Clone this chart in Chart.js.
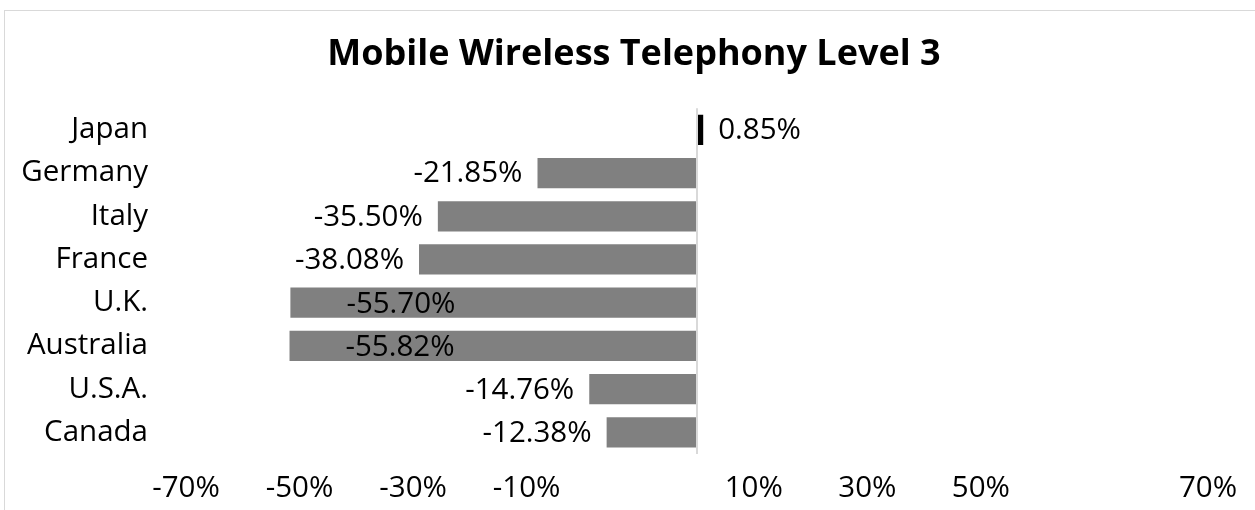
<!DOCTYPE html>
<html>
<head>
<meta charset="utf-8">
<script src="https://cdn.jsdelivr.net/npm/chart.js@4"></script>
<style>
  html, body { margin: 0; padding: 0; background: #fff; overflow: hidden; }
  #wrap { position: relative; width: 1255px; height: 510px; }
  #frame { position: absolute; left: 4px; top: 10px; width: 1300px; height: 560px; border: 1px solid #d9d9d9; }
  canvas { position: absolute; left: 0; top: 0; }
</style>
</head>
<body>
<div id="wrap">
  <div id="frame"></div>
  <canvas id="myChart" width="1255" height="510"></canvas>
</div>
<script>
const countries = ['Japan', 'Germany', 'Italy', 'France', 'U.K.', 'Australia', 'U.S.A.', 'Canada'];
const changes = [0.85, -21.85, -35.50, -38.08, -55.70, -55.82, -14.76, -12.38];
const axisLabels = ['-70%', '-50%', '-30%', '-10%', '', '10%', '30%', '50%', '', '70%'];

const chartTitle = 'Mobile Wireless Telephony Level 3';
const font = '"Open Sans", "Noto Sans", sans-serif';

// value labels next to the bars (moved inside when there is no room)
const barLabels = {
  id: 'barLabels',
  afterDatasetsDraw(chart) {
    const ctx = chart.ctx;
    const meta = chart.getDatasetMeta(0);
    ctx.save();
    ctx.font = '29.5px ' + font;
    ctx.fillStyle = '#000';
    ctx.textBaseline = 'middle';
    meta.data.forEach((bar, i) => {
      const v = changes[i];
      const txt = v.toFixed(2) + '%';
      const w = ctx.measureText(txt).width;
      if (v >= 0) {
        ctx.textAlign = 'left';
        ctx.fillText(txt, bar.x + 15, bar.y + 1);
      } else if (bar.x - 15 - w < chart.chartArea.left) {
        ctx.textAlign = 'left';
        ctx.fillText(txt, bar.x + 56, bar.y + 2);
      } else {
        ctx.textAlign = 'right';
        ctx.fillText(txt, bar.x - 15, bar.y + 1);
      }
    });
    ctx.restore();
  }
};

const ctx = document.getElementById('myChart');

const chart = new Chart(ctx, {
  type: 'bar',
  data: {
    labels: countries,
    datasets: [{
      data: changes,
      backgroundColor: changes.map(v => v >= 0 ? '#000000' : '#808080'),
      borderWidth: 0,
      categoryPercentage: 1,
      barPercentage: 0.7
    }]
  },
  options: {
    indexAxis: 'y',
    responsive: false,
    animation: false,
    layout: { padding: { left: 13, right: 0, top: 0, bottom: 0 } },
    plugins: {
      legend: { display: false },
      tooltip: { enabled: false },
      title: {
        display: true,
        text: chartTitle,
        color: '#000',
        font: { family: font, size: 36, weight: 'bold' },
        padding: { top: 33, bottom: 32 }
      }
    },
    scales: {
      x: {
        min: -70,
        max: 70,
        ticks: { display: false, stepSize: 10 },
        grid: {
          drawTicks: false,
          lineWidth: 2,
          color: c => c.tick && c.tick.value === 0 ? '#d9d9d9' : 'rgba(0,0,0,0)'
        },
        border: { display: false },
        afterFit: s => { s.height = 0; }
      },
      x2: {
        type: 'category',
        labels: axisLabels,
        position: 'bottom',
        offset: false,
        grid: { display: false, drawTicks: false },
        border: { display: false },
        ticks: {
          color: '#000',
          font: { family: font, size: 29.5 },
          padding: 17,
          maxRotation: 0,
          autoSkip: false
        },
        afterFit: s => { s.height = 56; s.paddingRight = 47; }
      },
      y: {
        grid: { display: false, drawTicks: false },
        border: { display: false },
        ticks: {
          color: '#000',
          font: { family: font, size: 29.5 },
          padding: 38,
          autoSkip: false
        },
        afterFit: s => { s.width = 173; }
      }
    }
  },
  plugins: [barLabels]
});
</script>
</body>
</html>
